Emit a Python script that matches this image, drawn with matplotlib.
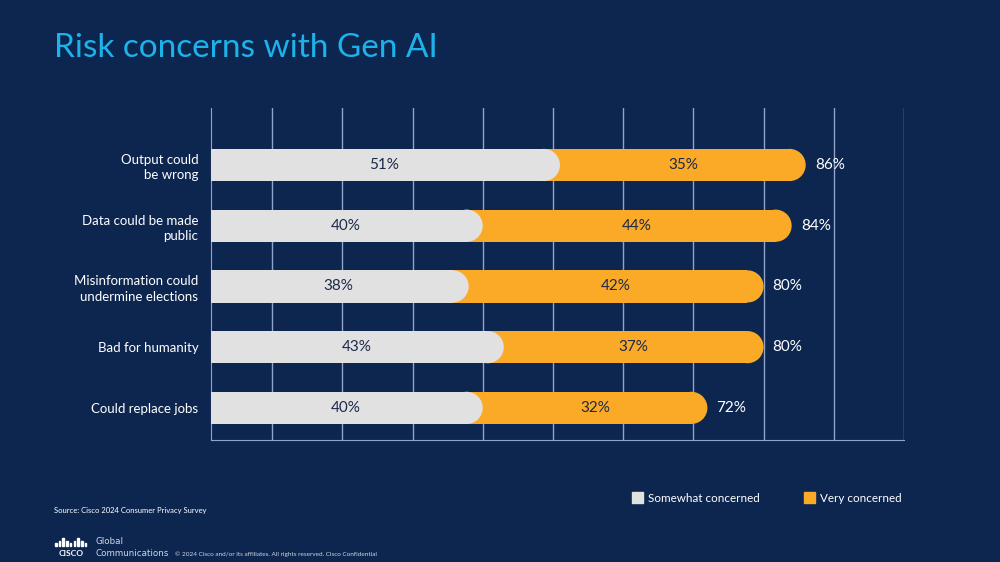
import numpy as np
import matplotlib
matplotlib.use('Agg')
import matplotlib.pyplot as plt
from matplotlib.patches import Ellipse, Rectangle

# data
categories = ['Output could\nbe wrong', 'Data could be made\npublic',
              'Misinformation could\nundermine elections', 'Bad for humanity',
              'Could replace jobs']
somewhat = [51, 40, 38, 43, 40]
very = [35, 44, 42, 37, 32]
totals = [86, 84, 80, 80, 72]
legend_labels = ['Somewhat concerned', 'Very concerned']

bg = '#0d2650'
grey = '#e1e1e1'
orange = '#fbaa28'
navy_txt = '#1c2a4a'

plt.rcParams['font.family'] = ['Lato', 'DejaVu Sans']

fig = plt.figure(figsize=(10, 5.62), dpi=100, facecolor=bg)
ax = fig.add_axes([0.211, 0.217, 0.693, 0.591], facecolor=bg)

ypos = np.arange(len(categories))[::-1]
h = 0.53
xmin, xmax = 1.3, 100
ax.set_xlim(xmin, xmax)
ax.set_ylim(-0.53, 4.94)

# half-height of bar expressed in x data units (pill ends)
px_per_x = 693 / (xmax - xmin)
px_per_y = 332 / (4.94 + 0.53)
rx = (h / 2) * px_per_y / px_per_x

for y, s, v, tot in zip(ypos, somewhat, very, totals):
    ax.barh(y, tot - rx, left=0, height=h, color=orange, zorder=2)
    ax.add_patch(Ellipse((tot - rx, y), 2 * rx, h, color=orange, zorder=2, lw=0))
    ax.barh(y, s - rx, left=0, height=h, color=grey, zorder=3)
    ax.add_patch(Ellipse((s - rx, y), 2 * rx, h, color=grey, zorder=3, lw=0))
    ax.text(s / 2 + 0.5, y, f'{s}%', ha='center', va='center', fontsize=11,
            color=navy_txt, zorder=4)
    ax.text(s + v / 2, y, f'{v}%', ha='center', va='center', fontsize=11,
            color=navy_txt, zorder=4)
    ax.text(tot + 1.3, y, f'{tot}%', ha='left', va='center', fontsize=11,
            color='white', zorder=4)

for gx in range(10, 101, 10):
    ax.axvline(gx, color='#8fa4c8', lw=1, zorder=1)

ax.set_yticks(ypos)
ax.set_yticklabels(categories, fontsize=9.5, color='white', linespacing=1.35)
ax.tick_params(axis='y', length=0, pad=9)
ax.set_xticks([])
for side in ['top', 'right']:
    ax.spines[side].set_visible(False)
ax.spines['left'].set_color('#8fa4c8')
ax.spines['bottom'].set_color('#8fa4c8')
ax.spines['left'].set_zorder(1)

# title
fig.text(0.054, 0.915, 'Risk concerns with Gen AI', fontsize=24, color='#1db2ea',
         ha='left', va='center')

# legend
for lx, col, lab in [(0.632, grey, legend_labels[0]), (0.804, orange, legend_labels[1])]:
    fig.patches.append(Rectangle((lx, 1 - 503 / 562), 0.011, 11 / 562,
                                 transform=fig.transFigure, color=col))
    fig.text(lx + 0.016, 1 - 498 / 562, lab, fontsize=8.4, color='white',
             ha='left', va='center')

fig.text(0.054, 1 - 510 / 562, 'Source: Cisco 2024 Consumer Privacy Survey',
         fontsize=5.5, color='white', ha='left', va='center')

# cisco logo
bar_h = [3, 5, 8, 5, 3, 5, 8, 5, 3]
for i, bh in enumerate(bar_h):
    cx = 0.055 + i * 0.0037
    fig.patches.append(Rectangle((cx, 1 - 546 / 562), 0.0016, bh / 562,
                                 transform=fig.transFigure, color='white'))
fig.text(0.0715, 1 - 553 / 562, 'CISCO', fontsize=6, color='white', weight='bold',
         ha='center', va='center')
fig.text(0.095, 1 - 542 / 562, 'Global', fontsize=6.3, color='#d0d6e2',
         ha='left', va='center', family='DejaVu Sans')
fig.text(0.095, 1 - 553 / 562, 'Communications', fontsize=6.3, color='#d0d6e2',
         ha='left', va='center', family='DejaVu Sans')
fig.text(0.175, 1 - 554 / 562,
         '\u00a9 2024 Cisco and/or its affiliates. All rights reserved. Cisco Confidential',
         fontsize=4.6, color='#d0d6e2', ha='left', va='center')

fig.savefig('out.png', dpi=100, facecolor=bg)
